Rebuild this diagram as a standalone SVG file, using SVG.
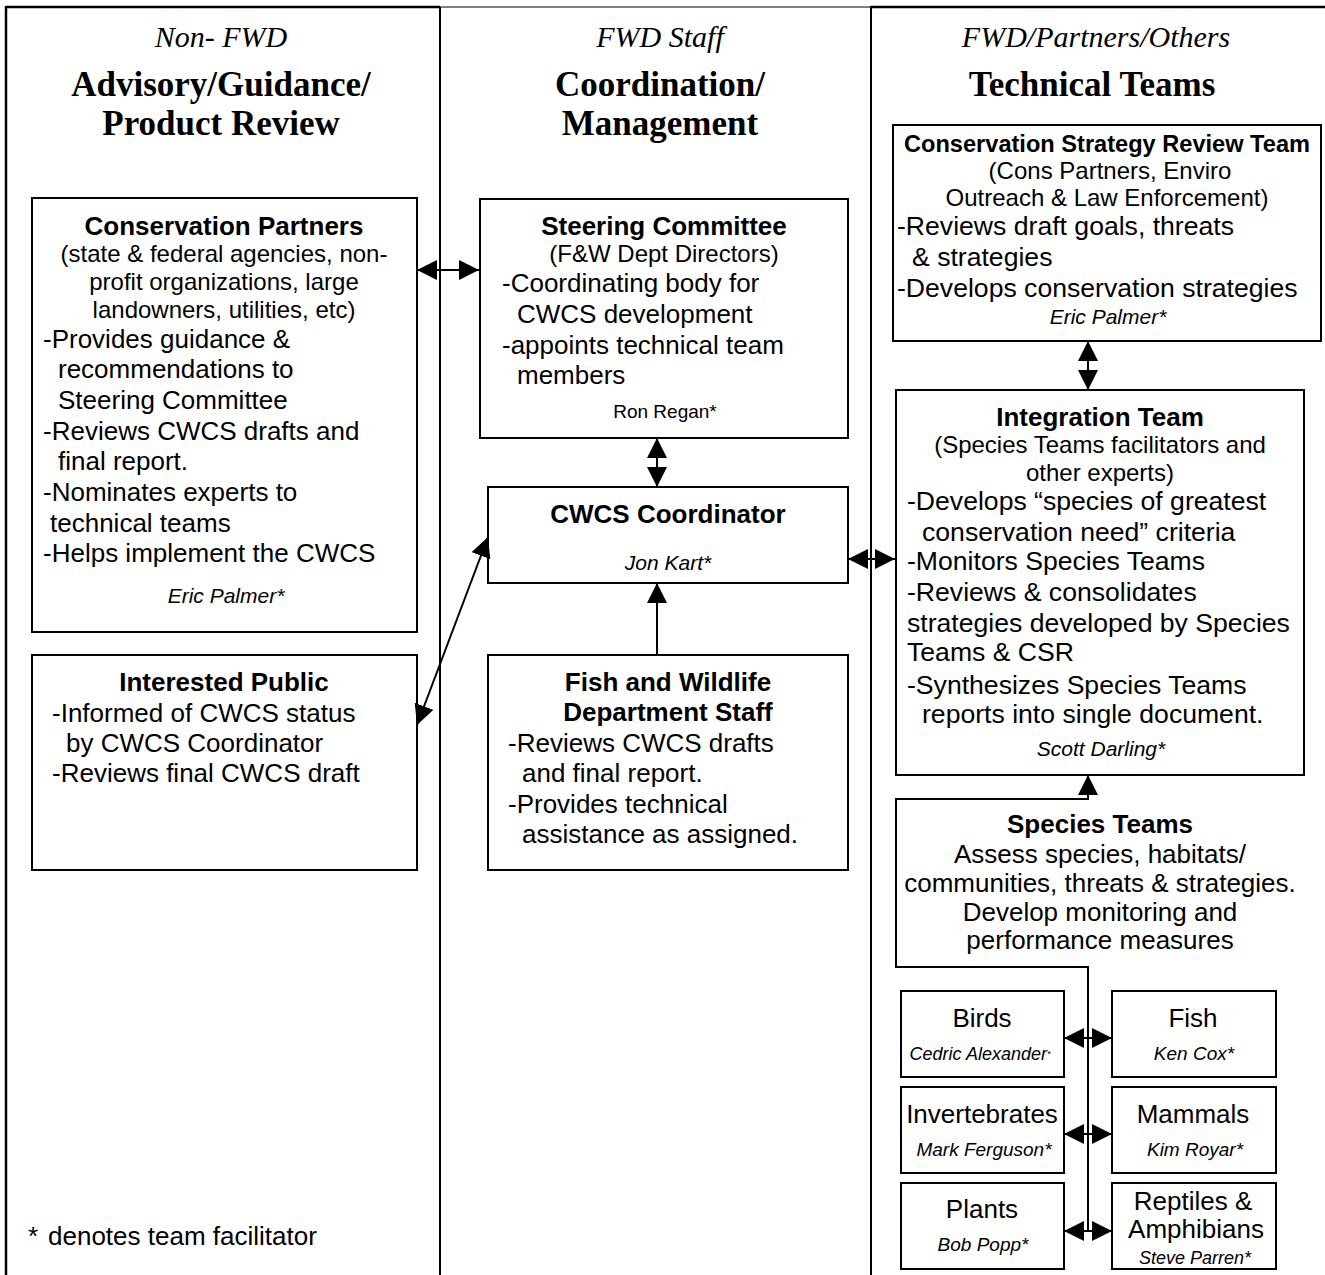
<svg xmlns="http://www.w3.org/2000/svg" width="1325" height="1275" viewBox="0 0 1325 1275">
<style>
.bg{fill:#fff}
.box{fill:#fff;stroke:#000;stroke-width:2}
.frame{stroke:#000;stroke-width:2.5;fill:none}
.t{font-family:"Liberation Sans",Arial,sans-serif;fill:#000}
.ti{font-weight:bold;font-size:26px;text-anchor:middle}
.ti24{font-weight:bold;font-size:23.6px;text-anchor:middle}
.sub{font-size:24px;text-anchor:middle}
.b{font-size:26px}
.br{font-size:26.6px}
.c{text-anchor:middle}
.nm{font-style:italic;font-size:21px;text-anchor:middle}
.sn{font-style:italic;font-size:19px;text-anchor:middle}
.sn18{font-style:italic;font-size:18px;text-anchor:middle}
.hi{font-family:"Liberation Serif","Times New Roman",serif;font-style:italic;font-size:30px;text-anchor:middle;fill:#000}
.hb{font-family:"Liberation Serif","Times New Roman",serif;font-weight:bold;font-size:35px;text-anchor:middle;fill:#000}
.conn{stroke:#000;stroke-width:2;fill:none}
</style>
<defs>
<marker id="ah" markerUnits="userSpaceOnUse" viewBox="0 0 20 20" markerWidth="20" markerHeight="20" refX="20" refY="10" orient="auto-start-reverse"><path d="M0,0 L20,10 L0,20 z" fill="#000"/></marker>
</defs>
<rect class="bg" x="0" y="0" width="1325" height="1275"/>

<g id="frame">
<line class="frame" x1="6" y1="7" x2="440" y2="7"/>
<line x1="440" y1="7" x2="871" y2="7" stroke="#555" stroke-width="1.5"/>
<line class="frame" x1="871" y1="7" x2="1325" y2="7"/>
<line class="frame" x1="6" y1="6" x2="6" y2="1275"/>
<line x1="440" y1="7" x2="440" y2="1275" stroke="#000" stroke-width="2"/>
<line x1="871" y1="6" x2="871" y2="1275" stroke="#000" stroke-width="2"/>
</g>

<g id="headers">
<text class="hi" x="221" y="47">Non- FWD</text>
<text class="hb" x="221" y="96">Advisory/Guidance/</text>
<text class="hb" x="221" y="135">Product Review</text>
<text class="hi" x="660" y="47">FWD Staff</text>
<text class="hb" x="660" y="96">Coordination/</text>
<text class="hb" x="660" y="135">Management</text>
<text class="hi" x="1096" y="47">FWD/Partners/Others</text>
<text class="hb" x="1092" y="96">Technical Teams</text>
</g>

<g id="conservation-partners">
<rect class="box" x="32" y="198" width="385" height="434"/>
<text class="t ti" x="224" y="235">Conservation Partners</text>
<text class="t sub" x="224" y="262">(state &amp; federal agencies, non-</text>
<text class="t sub" x="224" y="290">profit organizations, large</text>
<text class="t sub" x="224" y="318">landowners, utilities, etc)</text>
<text class="t b" x="43" y="348">-Provides guidance &amp;</text>
<text class="t b" x="58" y="378">recommendations to</text>
<text class="t b" x="58" y="409">Steering Committee</text>
<text class="t b" x="43" y="440">-Reviews CWCS drafts and</text>
<text class="t b" x="58" y="470">final report.</text>
<text class="t b" x="43" y="501">-Nominates experts to</text>
<text class="t b" x="50" y="532">technical teams</text>
<text class="t b" x="43" y="562">-Helps implement the CWCS</text>
<text class="t nm" x="226" y="603">Eric Palmer*</text>
</g>

<g id="interested-public">
<rect class="box" x="32" y="655" width="385" height="215"/>
<text class="t ti" x="224" y="691">Interested Public</text>
<text class="t b" x="52" y="722">-Informed of CWCS status</text>
<text class="t b" x="66" y="752">by CWCS Coordinator</text>
<text class="t b" x="52" y="782">-Reviews final CWCS draft</text>
</g>

<g id="steering-committee">
<rect class="box" x="480" y="199" width="368" height="239"/>
<text class="t ti" x="664" y="235">Steering Committee</text>
<text class="t sub" x="664" y="262">(F&amp;W Dept Directors)</text>
<text class="t b" x="502" y="292">-Coordinating body for</text>
<text class="t b" x="517" y="323">CWCS development</text>
<text class="t b" x="502" y="354">-appoints technical team</text>
<text class="t b" x="517" y="384">members</text>
<text class="t c" x="665" y="418" font-size="19">Ron Regan*</text>
</g>

<g id="cwcs-coordinator">
<rect class="box" x="488" y="487" width="360" height="96"/>
<text class="t ti" x="668" y="523">CWCS Coordinator</text>
<text class="t nm" x="668" y="570">Jon Kart*</text>
</g>

<g id="fw-staff">
<rect class="box" x="488" y="655" width="360" height="215"/>
<text class="t ti" x="668" y="691">Fish and Wildlife</text>
<text class="t ti" x="668" y="721">Department Staff</text>
<text class="t b" x="508" y="752">-Reviews CWCS drafts</text>
<text class="t b" x="522" y="782">and final report.</text>
<text class="t b" x="508" y="813">-Provides technical</text>
<text class="t b" x="522" y="843">assistance as assigned.</text>
</g>

<g id="csrt">
<rect class="box" x="893" y="125" width="428" height="216"/>
<text class="t ti24" x="1107" y="152">Conservation Strategy Review Team</text>
<text class="t sub" x="1110" y="179">(Cons Partners, Enviro</text>
<text class="t sub" x="1107" y="206">Outreach &amp; Law Enforcement)</text>
<text class="t br" x="897" y="235">-Reviews draft goals, threats</text>
<text class="t br" x="912" y="266">&amp; strategies</text>
<text class="t br" x="897" y="297">-Develops conservation strategies</text>
<text class="t nm" x="1108" y="324">Eric Palmer*</text>
</g>

<g id="integration-team">
<rect class="box" x="896" y="390" width="408" height="385"/>
<text class="t ti" x="1100" y="426">Integration Team</text>
<text class="t sub" x="1100" y="453">(Species Teams facilitators and</text>
<text class="t sub" x="1100" y="481">other experts)</text>
<text class="t br" x="907" y="510">-Develops “species of greatest</text>
<text class="t br" x="922" y="541">conservation need” criteria</text>
<text class="t br" x="907" y="570">-Monitors Species Teams</text>
<text class="t br" x="907" y="601">-Reviews &amp; consolidates</text>
<text class="t br" x="907" y="632">strategies developed by Species</text>
<text class="t br" x="907" y="661">Teams &amp; CSR</text>
<text class="t br" x="907" y="694">-Synthesizes Species Teams</text>
<text class="t br" x="922" y="723">reports into single document.</text>
<text class="t nm" x="1101" y="756">Scott Darling*</text>
</g>

<g id="species-teams">
<text class="t ti" x="1100" y="833">Species Teams</text>
<text class="t b c" x="1100" y="863">Assess species, habitats/</text>
<text class="t b c" x="1100" y="892">communities, threats &amp; strategies.</text>
<text class="t b c" x="1100" y="921">Develop monitoring and</text>
<text class="t b c" x="1100" y="949">performance measures</text>
</g>

<g id="birds">
<rect class="box" x="901" y="991" width="163" height="86"/>
<text class="t b c" x="982" y="1027">Birds</text>
<text class="t sn18" x="980" y="1060">Cedric Alexander<tspan style="font-size:9px" dy="-3">*</tspan></text>
</g>
<g id="fish">
<rect class="box" x="1112" y="991" width="164" height="86"/>
<text class="t b c" x="1193" y="1027">Fish</text>
<text class="t sn" x="1194" y="1060">Ken Cox*</text>
</g>
<g id="invertebrates">
<rect class="box" x="901" y="1087" width="163" height="86"/>
<text class="t b c" x="982" y="1123">Invertebrates</text>
<text class="t sn" x="984" y="1156">Mark Ferguson*</text>
</g>
<g id="mammals">
<rect class="box" x="1112" y="1087" width="164" height="86"/>
<text class="t b c" x="1193" y="1123">Mammals</text>
<text class="t sn" x="1195" y="1156">Kim Royar*</text>
</g>
<g id="plants">
<rect class="box" x="901" y="1183" width="163" height="86"/>
<text class="t b c" x="982" y="1218">Plants</text>
<text class="t sn" x="983" y="1251">Bob Popp*</text>
</g>
<g id="reptiles">
<rect class="box" x="1112" y="1183" width="164" height="86"/>
<text class="t b c" x="1193" y="1210">Reptiles &amp;</text>
<text class="t b c" x="1196" y="1238">Amphibians</text>
<text class="t sn18" x="1195" y="1264">Steve Parren*</text>
</g>

<g id="legend">
<text class="t" x="28" y="1245" font-size="26"><tspan>*</tspan><tspan x="48">denotes team facilitator</tspan></text>
</g>

<g id="connectors">
<line class="conn" x1="417" y1="270" x2="479" y2="270" marker-start="url(#ah)" marker-end="url(#ah)"/>
<line class="conn" x1="657" y1="438" x2="657" y2="487" marker-start="url(#ah)" marker-end="url(#ah)"/>
<line class="conn" x1="417" y1="725" x2="488" y2="537" marker-start="url(#ah)" marker-end="url(#ah)"/>
<line class="conn" x1="657" y1="655" x2="657" y2="583" marker-end="url(#ah)"/>
<line class="conn" x1="848" y1="559" x2="895" y2="559" marker-start="url(#ah)" marker-end="url(#ah)"/>
<line class="conn" x1="1088" y1="341" x2="1088" y2="390" marker-start="url(#ah)" marker-end="url(#ah)"/>
<polyline class="conn" points="1088,1232 1088,967 896,967 896,799 1088,799 1088,775" marker-end="url(#ah)"/>
<line class="conn" x1="1064" y1="1038" x2="1112" y2="1038" marker-start="url(#ah)" marker-end="url(#ah)"/>
<line class="conn" x1="1064" y1="1134" x2="1112" y2="1134" marker-start="url(#ah)" marker-end="url(#ah)"/>
<line class="conn" x1="1064" y1="1231" x2="1112" y2="1231" marker-start="url(#ah)" marker-end="url(#ah)"/>
</g>
</svg>
